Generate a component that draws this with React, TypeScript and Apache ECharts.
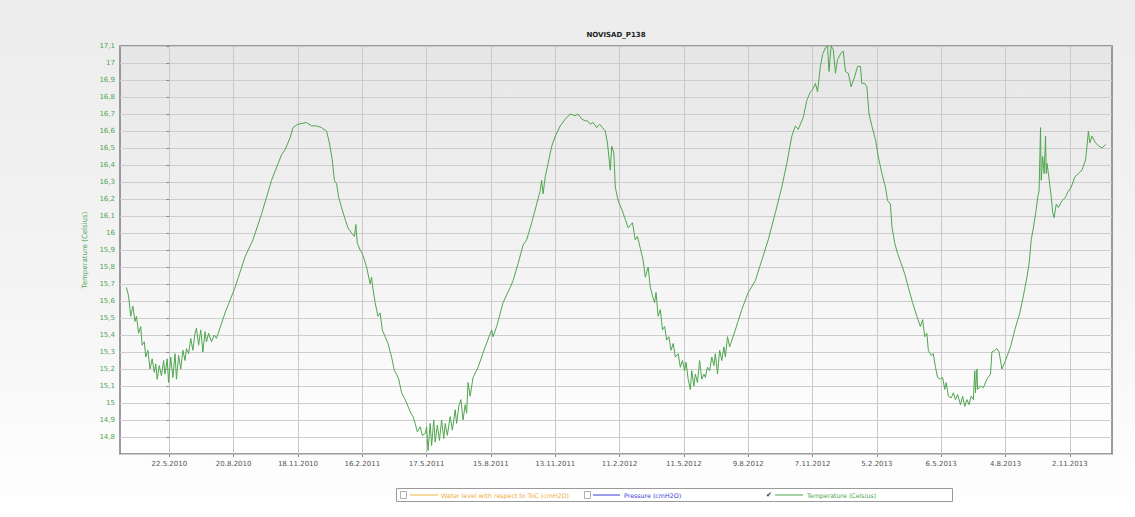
import React, { useEffect, useRef } from "react";
import * as echarts from "echarts";

// Day offsets relative to 22.5.2010 (first labelled x tick)
const dayOffsets: number[] = [
  -60, -57, -54, -51, -48, -46, -43, -40, -38, -35, -33, -30, -27, -24, -21, -19, -17, -14, -11, -8, -6, -3, -1,
  2, 5, 8, 10, 13, 16, 19, 22, 24, 27, 30, 33, 36, 38, 41, 44, 47, 50, 52, 55, 59, 63, 66,
  78, 92, 106, 117, 129, 143, 157, 162, 169, 173, 180, 192, 199, 206, 213, 220, 224, 228, 231, 234, 237, 241,
  246, 250, 255, 259, 261, 263, 267, 270, 273, 276, 281, 283, 285, 288, 292, 295, 298, 302, 306, 311, 315,
  318, 321, 325, 330, 334, 338, 341, 344, 347, 351, 354, 358, 360, 362, 365, 367, 370, 372, 375, 378, 381,
  384, 386, 389, 393, 396, 400, 402, 405, 408, 411, 414, 416, 418, 421, 425, 432, 442, 451, 453, 458, 467,
  477, 481, 488, 495, 500, 507, 514, 519, 521, 523, 526, 530, 535, 540, 547, 554, 561, 568, 572, 577, 582,
  585, 589, 593, 598, 602, 606, 610, 613, 617, 619, 622, 624, 628, 633, 638, 642, 648, 652, 655, 659, 663,
  666, 670, 673, 676, 679, 681, 684, 687, 690, 693, 696, 699, 702, 705, 708, 712, 715, 718, 721, 723, 726,
  729, 731, 734, 736, 739, 742, 745, 748, 750, 753, 756, 759, 762, 764, 767, 770, 773, 776, 778, 781, 784,
  792, 801, 810, 820, 829, 838, 848, 857, 864, 871, 876, 880, 887, 892, 897, 901, 904, 907, 911, 914, 918,
  921, 923, 926, 929, 932, 935, 940, 943, 946, 950, 954, 959, 963, 967, 969, 973, 976, 979, 983, 988, 992,
  997, 1002, 1005, 1009, 1011, 1015, 1019, 1024, 1029, 1034, 1040, 1046, 1051, 1054, 1057, 1060, 1062, 1066,
  1069, 1072, 1075, 1079, 1082, 1085, 1087, 1090, 1094, 1097, 1100, 1103, 1107, 1110, 1113, 1116, 1119, 1122,
  1125, 1127, 1128, 1130, 1131, 1135, 1139, 1144, 1149, 1151, 1155, 1158, 1161, 1165, 1170, 1177, 1183, 1190,
  1195, 1200, 1203, 1206, 1209, 1213, 1215, 1217, 1219, 1220, 1222, 1224, 1226, 1227, 1228, 1230, 1234, 1236,
  1238, 1241, 1244, 1249, 1254, 1257, 1262, 1267, 1272, 1277, 1282, 1284, 1286, 1288, 1291, 1296, 1301, 1305, 1310,
];

const temperature: number[] = [
  15.68, 15.63, 15.51, 15.57, 15.48, 15.51, 15.41, 15.45, 15.34, 15.36, 15.27, 15.31, 15.2, 15.26, 15.18, 15.23, 15.14, 15.22, 15.16, 15.25, 15.17, 15.26, 15.12,
  15.27, 15.15, 15.29, 15.14, 15.28, 15.2, 15.31, 15.25, 15.32, 15.29, 15.38, 15.31, 15.41, 15.44, 15.34, 15.43, 15.3, 15.42, 15.36, 15.41, 15.36, 15.4, 15.38,
  15.53, 15.68, 15.86, 15.96, 16.11, 16.31, 16.46, 16.49, 16.56, 16.62, 16.64, 16.65, 16.63, 16.63, 16.62, 16.6, 16.53, 16.43, 16.31, 16.29, 16.21, 16.15,
  16.08, 16.03, 16.0, 15.98, 16.05, 15.94, 15.9, 15.88, 15.84, 15.8, 15.7, 15.74, 15.67, 15.59, 15.51, 15.53, 15.43, 15.39, 15.35, 15.27, 15.19,
  15.17, 15.14, 15.06, 15.02, 14.98, 14.94, 14.92, 14.88, 14.83, 14.86, 14.81, 14.82, 14.86, 14.72, 14.88, 14.75, 14.9, 14.77, 14.87, 14.78, 14.9,
  14.79, 14.88, 14.81, 14.92, 14.84, 14.96, 14.88, 14.98, 15.02, 14.9, 14.99, 14.94, 15.12, 15.04, 15.15, 15.21, 15.33, 15.43, 15.39, 15.45, 15.59,
  15.68, 15.72, 15.82, 15.93, 15.96, 16.06, 16.17, 16.25, 16.31, 16.23, 16.33, 16.41, 16.51, 16.57, 16.63, 16.67, 16.7, 16.69, 16.7, 16.67, 16.66,
  16.66, 16.64, 16.65, 16.62, 16.64, 16.62, 16.6, 16.53, 16.37, 16.51, 16.47, 16.27, 16.19, 16.14, 16.08, 16.03, 16.06, 15.96, 15.98, 15.91, 15.84,
  15.74, 15.8, 15.68, 15.63, 15.59, 15.65, 15.51, 15.55, 15.43, 15.45, 15.37, 15.39, 15.31, 15.35, 15.27, 15.29, 15.21, 15.25, 15.19, 15.24, 15.14,
  15.08, 15.19, 15.1, 15.17, 15.12, 15.25, 15.14, 15.17, 15.15, 15.21, 15.19, 15.27, 15.22, 15.29, 15.17, 15.31, 15.25, 15.33, 15.27, 15.39, 15.33,
  15.43, 15.55, 15.65, 15.72, 15.84, 15.96, 16.12, 16.27, 16.41, 16.57, 16.63, 16.61, 16.68, 16.78, 16.83, 16.85, 16.88, 16.83, 16.98, 17.05, 17.09,
  17.1, 16.95, 17.1, 17.08, 16.94, 17.02, 17.06, 17.07, 16.95, 16.94, 16.86, 16.92, 16.98, 16.98, 16.88, 16.88, 16.86, 16.7, 16.63, 16.55, 16.45,
  16.35, 16.27, 16.19, 16.17, 16.04, 15.94, 15.88, 15.82, 15.76, 15.68, 15.59, 15.51, 15.45, 15.49, 15.39, 15.41, 15.31, 15.28,
  15.29, 15.21, 15.15, 15.14, 15.15, 15.08, 15.12, 15.04, 15.03, 15.06, 15.02, 15.05, 14.99, 15.04, 14.98, 15.02, 14.99, 15.04,
  15.02, 15.19, 15.06, 15.2, 15.08, 15.1, 15.09, 15.14, 15.17, 15.3, 15.31, 15.32, 15.3, 15.2, 15.25, 15.33, 15.43, 15.53,
  15.63, 15.74, 15.82, 15.96, 16.03, 16.14, 16.21, 16.25, 16.62, 16.31, 16.45, 16.35, 16.57, 16.35, 16.41, 16.35, 16.21, 16.12,
  16.09, 16.17, 16.15, 16.19, 16.21, 16.24, 16.27, 16.33, 16.35, 16.37, 16.43, 16.51, 16.6, 16.53, 16.57, 16.53, 16.51, 16.5, 16.52,
];

const tickDays: number[] = [0, 90, 180, 270, 360, 450, 540, 630, 720, 810, 900, 990, 1080, 1170, 1260];
const tickLabels: string[] = [
  "22.5.2010", "20.8.2010", "18.11.2010", "16.2.2011", "17.5.2011", "15.8.2011", "13.11.2011", "11.2.2012",
  "11.5.2012", "9.8.2012", "7.11.2012", "5.2.2013", "6.5.2013", "4.8.2013", "2.11.2013",
];

const chartTitle = "NOVISAD_P138";
const yName = "Temperature (Celsius)";
const legendNames: string[] = ["Water level with respect to ToC (cmH2O)", "Pressure (cmH2O)", "Temperature (Celsius)"];

const FONT = "DejaVu Sans";
const GREEN = "#4fa64f";

export default function App() {
  const ref = useRef<HTMLDivElement>(null);
  useEffect(() => {
    if (!ref.current) return;
    const chart = echarts.init(ref.current, null, { renderer: "svg" });
    const data = dayOffsets.map((d, i) => [d, temperature[i]]);
    const legendY = 495;
    const txt = (x: number, y: number, text: string, fill: string, size = 6.3, weight = "normal", align = "left") => ({
      type: "text",
      x,
      y,
      style: {
        text,
        fill,
        font: `${weight} ${size}px "${FONT}"`,
        textAlign: align,
        align,
        textVerticalAlign: "middle",
        verticalAlign: "middle",
      },
    });
    chart.setOption({
      animation: false,
      backgroundColor: "transparent",
      grid: {
        left: 120,
        top: 46,
        right: 23,
        bottom: 63,
        show: true,
        borderColor: "#7c7c7c",
        borderWidth: 1.5,
        backgroundColor: new echarts.graphic.LinearGradient(0, 0, 0, 1, [
          { offset: 0, color: "#e6e6e6" },
          { offset: 1, color: "#ffffff" },
        ]),
      },
      xAxis: {
        type: "value",
        min: -69,
        max: 1319,
        axisLine: { show: false },
        axisTick: { show: true, length: 3, customValues: tickDays, lineStyle: { color: "#888" } },
        splitLine: { show: true, lineStyle: { color: "#c9c9c9", width: 1 } },
        axisLabel: {
          customValues: tickDays,
          margin: 6,
          color: "#555",
          fontSize: 7,
          fontFamily: FONT,
          formatter: (v: number) => {
            const i = tickDays.indexOf(Math.round(v));
            return i >= 0 ? tickLabels[i] : "";
          },
        },
      },
      yAxis: {
        type: "value",
        min: 14.7,
        max: 17.1,
        interval: 0.1,
        name: yName,
        nameLocation: "middle",
        nameGap: 27,
        nameTextStyle: { color: GREEN, fontSize: 7, fontFamily: FONT },
        axisLine: { show: false },
        axisTick: { show: true, length: 3, lineStyle: { color: "#888" } },
        splitLine: { show: true, lineStyle: { color: "#cdcdcd", width: 1 } },
        axisLabel: {
          showMinLabel: false,
          margin: 5,
          color: GREEN,
          fontSize: 7,
          fontFamily: FONT,
          formatter: (v: number) => {
            const s = (Math.round(v * 10) / 10).toFixed(1);
            return s.endsWith(".0") ? s.slice(0, -2) : s.replace(".", ",");
          },
        },
      },
      series: [
        {
          name: legendNames[2],
          type: "line",
          data,
          showSymbol: false,
          symbol: "none",
          lineStyle: { color: GREEN, width: 1 },
          clip: true,
        },
      ],
      graphic: [
        txt(616, 35, chartTitle, "#222", 7, "bold", "center"),
        { type: "rect", shape: { x: 396.5, y: 488.5, width: 556, height: 13 }, style: { fill: "#fff", stroke: "#9a9a9a", lineWidth: 1 } },
        { type: "rect", shape: { x: 400.5, y: 491.5, width: 6, height: 7 }, style: { fill: "#fff", stroke: "#b0b0b0", lineWidth: 1 } },
        { type: "line", shape: { x1: 410, y1: legendY, x2: 438, y2: legendY }, style: { stroke: "#f2b544", lineWidth: 1 } },
        txt(441, legendY, legendNames[0], "#f0aa3a"),
        { type: "rect", shape: { x: 584.5, y: 491.5, width: 6, height: 7 }, style: { fill: "#fff", stroke: "#b0b0b0", lineWidth: 1 } },
        { type: "line", shape: { x1: 593, y1: legendY, x2: 620, y2: legendY }, style: { stroke: "#3a3ad6", lineWidth: 1 } },
        txt(624, legendY, legendNames[1], "#3a3ad6"),
        txt(766, legendY, "\u2714", "#333", 7),
        { type: "line", shape: { x1: 775, y1: legendY, x2: 803, y2: legendY }, style: { stroke: GREEN, lineWidth: 1 } },
        txt(807, legendY, legendNames[2], GREEN),
      ],
    });
    return () => chart.dispose();
  }, []);
  return (
    <div
      ref={ref}
      style={{
        position: "fixed",
        left: 0,
        top: 0,
        width: 1135,
        height: 517,
        background: "linear-gradient(to bottom, #ececec 0%, #f4f4f4 55%, #ffffff 100%)",
      }}
    />
  );
}
